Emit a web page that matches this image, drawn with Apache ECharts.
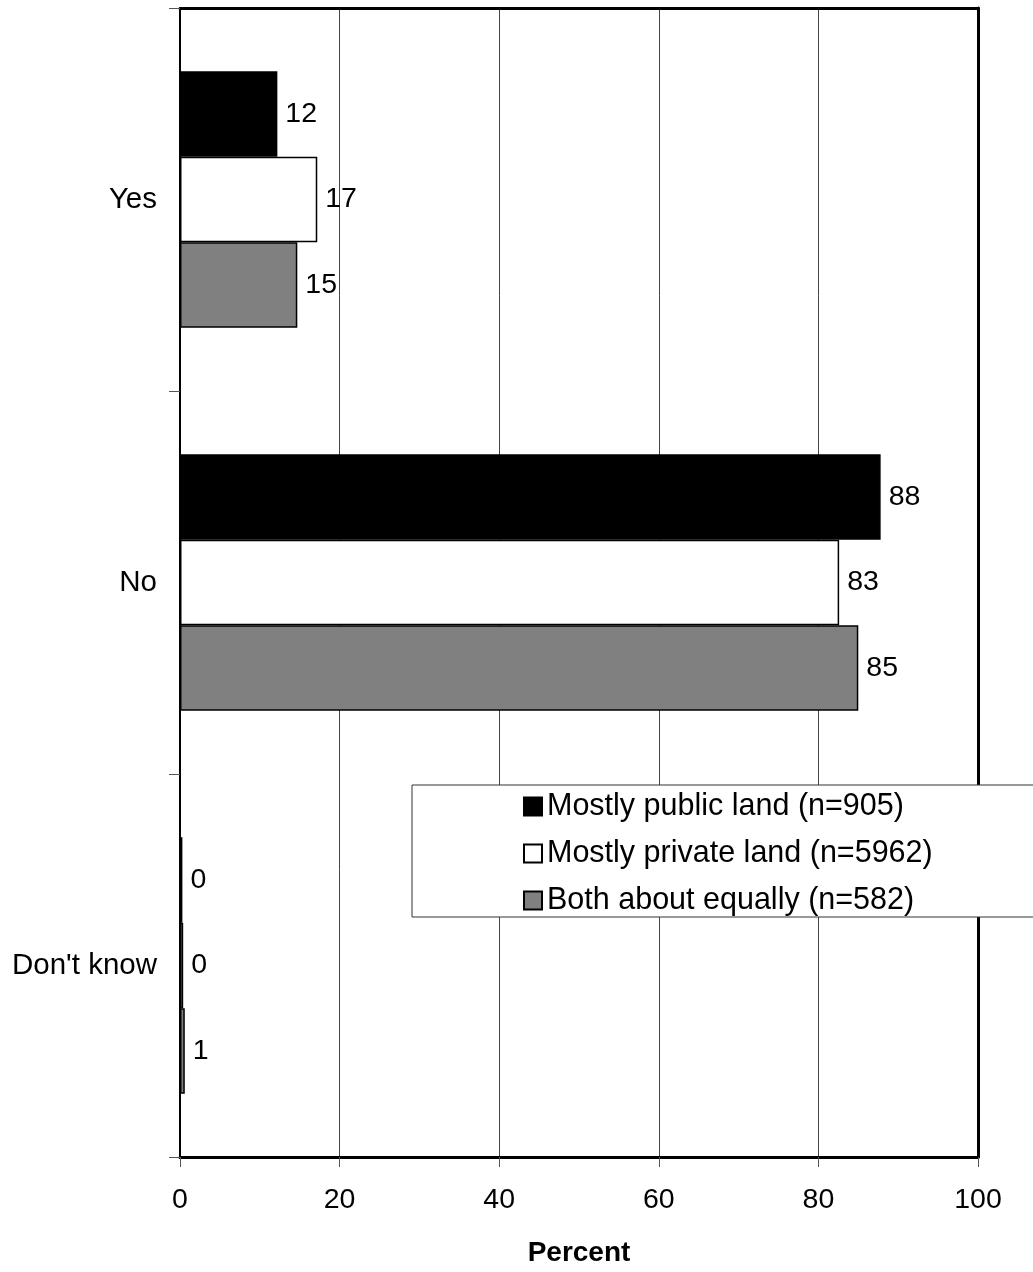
<!DOCTYPE html>
<html>
<head>
<meta charset="utf-8">
<script src="https://cdn.jsdelivr.net/npm/echarts@6/dist/echarts.min.js"></script>
<style>
html,body{margin:0;padding:0;background:#fff;}
#chart{width:1033px;height:1272px;}
</style>
</head>
<body>
<div id="chart"></div>
<script>
const categories = ['Yes', 'No', "Don't know"];
const seriesNames = ['Mostly public land (n=905)', 'Mostly private land (n=5962)', 'Both about equally (n=582)'];
const publicLand = [12.2, 87.8, 0.3];
const privateLand = [17.2, 82.6, 0.4];
const bothEqually = [14.7, 85.0, 0.6];
const xTicks = [0, 20, 40, 60, 80, 100];

const FONT = '"Liberation Sans", Arial, sans-serif';
const fills = ['#000000', '#ffffff', '#808080'];
const values = [publicLand, privateLand, bothEqually];

const chart = echarts.init(document.getElementById('chart'), null, {renderer: 'canvas'});

const series = values.map((vals, i) => ({
  name: seriesNames[i],
  type: 'bar',
  xAxisIndex: 0,
  yAxisIndex: 0,
  data: vals,
  barGap: '0%',
  barCategoryGap: '33%',
  itemStyle: {color: fills[i], borderColor: '#000', borderWidth: 1.5},
  label: {
    show: true,
    position: 'right',
    distance: 8,
    fontFamily: FONT,
    fontSize: 28.5,
    color: '#000',
    formatter: p => String(Math.round(p.value))
  },
  emphasis: {disabled: true},
  animation: false
}));

chart.setOption({
  animation: false,
  backgroundColor: '#fff',
  grid: {left: 180, right: 55, top: 8, bottom: 108, containLabel: false},
  xAxis: [{
    type: 'value',
    position: 'bottom',
    min: xTicks[0],
    max: xTicks[xTicks.length - 1],
    interval: 20,
    axisLine: {show: true, onZero: false, lineStyle: {color: '#000', width: 3}},
    axisTick: {show: true, length: 10, lineStyle: {color: '#555', width: 1}},
    axisLabel: {fontFamily: FONT, fontSize: 28.5, color: '#000', margin: 29},
    splitLine: {show: true, lineStyle: {color: '#444', width: 1}},
    name: 'Percent',
    nameLocation: 'middle',
    nameGap: 82,
    nameTextStyle: {fontFamily: FONT, fontSize: 28, fontWeight: 'bold', color: '#000'}
  }, {
    type: 'value',
    position: 'top',
    min: 0, max: 100, interval: 20,
    axisLine: {show: true, onZero: false, lineStyle: {color: '#000', width: 3}},
    axisTick: {show: false},
    axisLabel: {show: false},
    splitLine: {show: false}
  }],
  yAxis: [{
    type: 'category',
    data: categories,
    inverse: true,
    position: 'left',
    axisLine: {show: true, onZero: false, lineStyle: {color: '#000', width: 2}},
    axisTick: {show: true, length: 11, alignWithLabel: false, lineStyle: {color: '#555', width: 1}},
    axisLabel: {fontFamily: FONT, fontSize: 29.5, color: '#000', margin: 23},
    splitLine: {show: false}
  }, {
    type: 'category',
    data: categories,
    inverse: true,
    position: 'right',
    axisLine: {show: true, onZero: false, lineStyle: {color: '#000', width: 3}},
    axisTick: {show: false},
    axisLabel: {show: false},
    splitLine: {show: false}
  }],
  legend: {
    orient: 'vertical',
    left: 523,
    top: 791,
    itemWidth: 18,
    itemHeight: 18,
    itemGap: 16,
    icon: 'rect',
    padding: 0,
    selectedMode: false,
    textStyle: {fontFamily: FONT, fontSize: 30.5, color: '#000'},
    data: seriesNames,
    z: 10
  },
  graphic: [{
    type: 'rect',
    z: 5,
    shape: {x: 412, y: 785, width: 700, height: 132},
    style: {fill: '#fff', stroke: '#333', lineWidth: 1}
  }],
  series: series
});
</script>
</body>
</html>
